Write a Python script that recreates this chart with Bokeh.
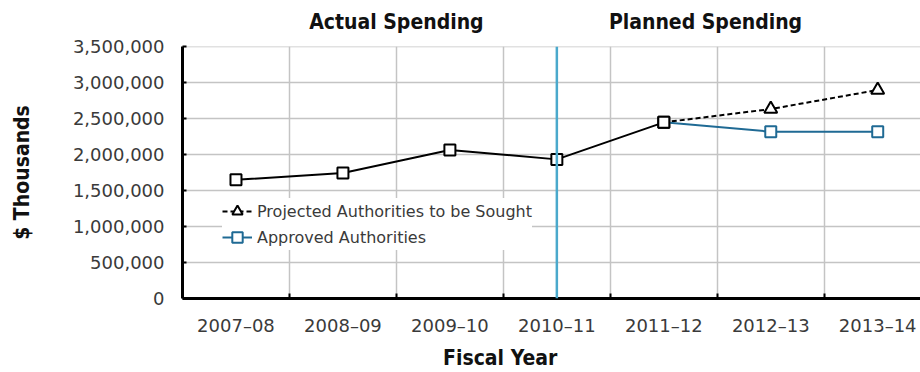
from bokeh.plotting import figure
from bokeh.models import (FixedTicker, NumeralTickFormatter, Legend, LegendItem,
                          Span, Range1d, LinearAxis)
from bokeh.embed import file_html
from bokeh.resources import INLINE

years = ["2007–08", "2008–09", "2009–10", "2010–11", "2011–12", "2012–13", "2013–14"]
actual_years = ["2007–08", "2008–09", "2009–10", "2010–11", "2011–12"]
actual_values = [1650000, 1745000, 2065000, 1935000, 2450000]
planned_years = ["2011–12", "2012–13", "2013–14"]
projected_values = [2450000, 2635000, 2900000]
approved_values = [2450000, 2320000, 2320000]
y_ticks = [0, 500000, 1000000, 1500000, 2000000, 2500000, 3000000, 3500000]
section_titles = ["Actual Spending", "Planned Spending"]
section_pos = [2.0, 4.89]

pos = {y: i + 0.5 for i, y in enumerate(years)}
ax = [pos[y] for y in actual_years]
px = [pos[y] for y in planned_years]

BLUE = "#1f6a94"
CYAN = "#4aa9cc"
FONT = "DejaVu Sans"
COND = "DejaVu Sans Condensed"
TXT = "#3a3a3a"

p = figure(width=920, height=372, output_backend="svg", toolbar_location=None,
           x_range=Range1d(0, 6.9), y_range=Range1d(0, 3505000),
           min_border_left=182, min_border_right=0, min_border_top=46,
           min_border_bottom=0)
p.outline_line_color = None

# x axis
p.xaxis.ticker = FixedTicker(ticks=[pos[y] for y in years], minor_ticks=[1, 2, 3, 4, 5, 6])
p.xaxis.major_label_overrides = {pos[y]: y for y in years}
p.xaxis.major_tick_in = 0
p.xaxis.major_tick_out = 0
p.xaxis.minor_tick_in = 5
p.xaxis.minor_tick_out = 0
p.xaxis.minor_tick_line_color = "black"
p.xaxis.minor_tick_line_width = 2
p.xaxis.axis_line_width = 3
p.xaxis.axis_line_color = "black"
p.xaxis.major_label_text_font = FONT
p.xaxis.major_label_text_font_size = "18px"
p.xaxis.major_label_text_color = TXT
p.xaxis.major_label_standoff = 16

# secondary bottom axis used as the "Fiscal Year" label
fy = LinearAxis(ticker=FixedTicker(ticks=[2.97]), major_label_overrides={2.97: "Fiscal Year"},
                axis_line_color=None, major_tick_line_color=None, minor_tick_line_color=None,
                major_label_text_font=COND, major_label_text_font_style="bold",
                major_label_text_font_size="21px", major_label_text_color="#111111",
                major_label_standoff=1)
p.add_layout(fy, "below")

# top axis used for section titles
top = LinearAxis(ticker=FixedTicker(ticks=section_pos),
                 major_label_overrides=dict(zip(section_pos, section_titles)),
                 axis_line_color=None, major_tick_line_color=None, minor_tick_line_color=None,
                 major_label_text_font=COND, major_label_text_font_style="bold",
                 major_label_text_font_size="21px", major_label_text_color="#111111",
                 major_label_standoff=7)
p.add_layout(top, "above")

# y axis
p.yaxis.ticker = FixedTicker(ticks=y_ticks)
p.yaxis.formatter = NumeralTickFormatter(format="0,0")
p.yaxis.major_tick_in = 4
p.yaxis.major_tick_out = 0
p.yaxis.major_tick_line_width = 2
p.yaxis.minor_tick_line_color = None
p.yaxis.axis_line_width = 3
p.yaxis.axis_line_color = "black"
p.yaxis.major_label_text_font = FONT
p.yaxis.major_label_text_font_size = "18px"
p.yaxis.major_label_text_color = TXT
p.yaxis.major_label_standoff = 18
p.yaxis.axis_label = "$ Thousands"
p.yaxis.axis_label_text_font = COND
p.yaxis.axis_label_text_font_style = "bold"
p.yaxis.axis_label_text_font_size = "21px"
p.yaxis.axis_label_text_color = "#111111"
p.yaxis.axis_label_standoff = 36

p.xgrid.ticker = FixedTicker(ticks=[1, 2, 3, 4, 5, 6])
p.xgrid.grid_line_color = "#c4c4c4"
p.xgrid.grid_line_width = 1.5
p.ygrid.grid_line_color = "#c4c4c4"
p.ygrid.grid_line_width = 1.5

# vertical divider at 2010-11
p.add_layout(Span(location=pos["2010–11"], dimension="height", line_color=CYAN, line_width=2.5))

# series
p.line(ax, actual_values, line_color="black", line_width=2)
p.scatter(ax, actual_values, marker="square", size=11, fill_color="white",
          line_color="black", line_width=2)
r_proj_l = p.line(px, projected_values, line_color="black", line_width=2, line_dash="5 3")
r_appr_l = p.line(px, approved_values, line_color=BLUE, line_width=2)
r_proj_m = p.scatter(px[1:], projected_values[1:], marker="triangle", size=13,
                     fill_color="white", line_color="black", line_width=2)
r_appr_m = p.scatter(px[1:], approved_values[1:], marker="square", size=11,
                     fill_color="white", line_color=BLUE, line_width=2)
p.scatter(px[:1], projected_values[:1], marker="square", size=11, fill_color="white",
          line_color="black", line_width=2)

legend = Legend(items=[
    LegendItem(label="Projected Authorities to be Sought", renderers=[r_proj_l, r_proj_m]),
    LegendItem(label="Approved Authorities", renderers=[r_appr_l, r_appr_m]),
], location=(40, 48))
legend.background_fill_color = "white"
legend.background_fill_alpha = 1
legend.border_line_color = None
legend.label_text_font = FONT
legend.label_text_font_size = "16px"
legend.label_text_color = TXT
legend.glyph_width = 30
legend.spacing = 0
legend.padding = 3
legend.margin = 0
legend.label_height = 26
legend.glyph_height = 26
p.add_layout(legend)

open("out.html", "w").write(file_html(p, INLINE))
